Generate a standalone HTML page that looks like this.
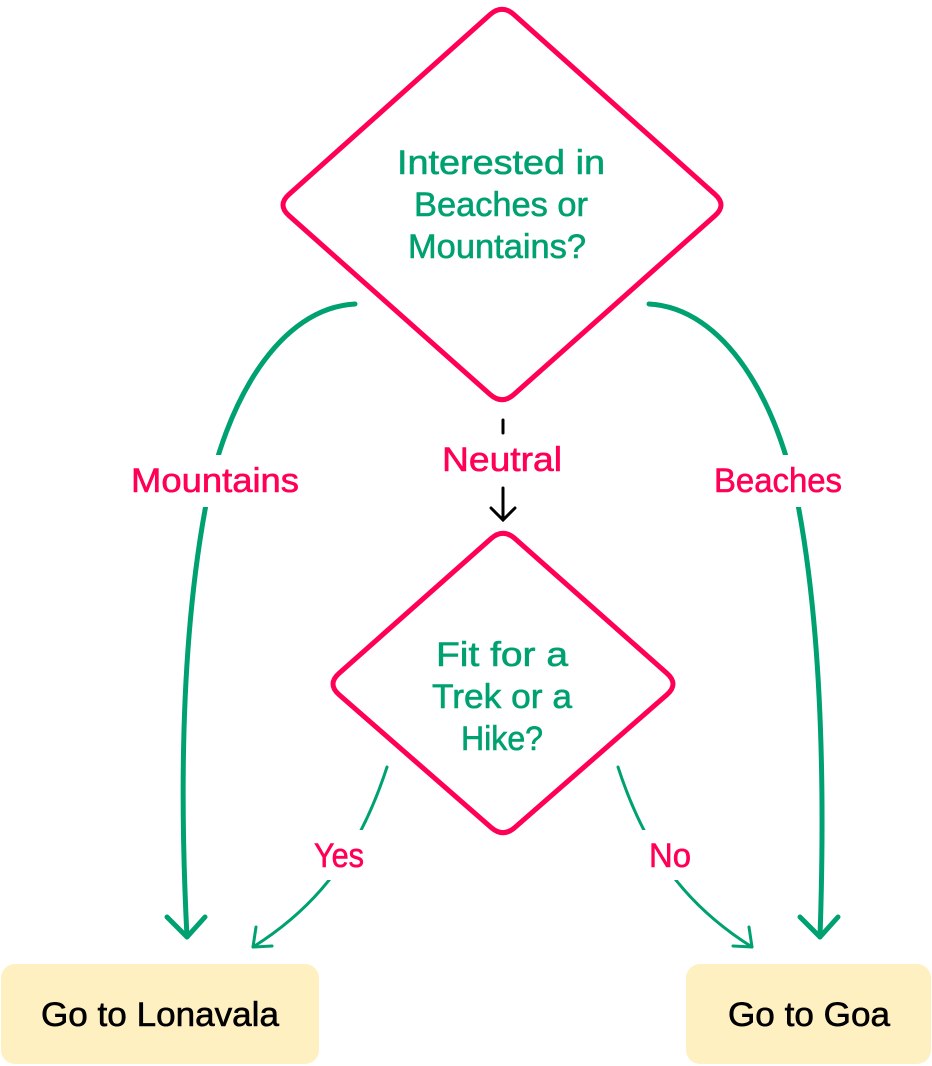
<!DOCTYPE html>
<html><head><meta charset="utf-8"><style>
html,body{margin:0;padding:0;background:#fff;}
svg{display:block;}
text{font-family:"Liberation Sans",sans-serif;}
</style></head><body>
<svg width="932" height="1066" viewBox="0 0 932 1066" xmlns="http://www.w3.org/2000/svg">
<g fill="none" stroke="#ff0054" stroke-width="5" stroke-linejoin="round">
<path d="M514,14.6 L715,194.4 Q727,205 715,215.6 L514,394.4 Q502,405 490,394.4 L289,215.6 Q277,205 289,194.4 L490,14.6 Q502,4 514,14.6 Z"/>
<path d="M515,538.6 L667,673.4 Q679,684 667,694.6 L515,827.4 Q503,838 491,827.4 L339,694.6 Q327,684 339,673.4 L491,538.6 Q503,528 515,538.6 Z"/>
</g>
<g fill="none" stroke="#00a170" stroke-linecap="round" stroke-linejoin="round">
<path stroke-width="5" d="M355,304 C280,308 225,400 205,510 C185,620 178,760 187,937"/>
<path stroke-width="5" d="M167,917 L187,937 L205,917"/>
<path stroke-width="5" d="M649,304 C724,308 779,400 799,510 C819,620 826,760 820,937"/>
<path stroke-width="5" d="M800,917 L820,937 L838,917"/>
<path stroke-width="3" d="M387,767 C360,850 320,905 253,947"/>
<path stroke-width="3" d="M256,927 L253,947 L272,946"/>
<path stroke-width="3" d="M618,767 C645,850 685,905 752,947"/>
<path stroke-width="3" d="M749,927 L752,947 L733,946"/>
</g>
<g stroke="#000" stroke-width="3" fill="none" stroke-linecap="round">
<path d="M503,420 L503,433"/>
<path d="M503,488 L503,520 M491,508 L503,520 L515,508"/>
</g>
<rect x="120" y="455" width="190" height="52" fill="#fff"/>
<rect x="700" y="455" width="150" height="52" fill="#fff"/>
<rect x="305" y="830" width="70" height="50" fill="#fff"/>
<rect x="640" y="830" width="60" height="50" fill="#fff"/>
<g fill="#ff0054" font-size="34" stroke="#ff0054" stroke-width="0.6">
<text x="131" y="492" textLength="168" lengthAdjust="spacingAndGlyphs">Mountains</text>
<text x="714" y="492" textLength="128" lengthAdjust="spacingAndGlyphs">Beaches</text>
<text x="442" y="471" textLength="120" lengthAdjust="spacingAndGlyphs">Neutral</text>
<text x="314" y="867" textLength="50" lengthAdjust="spacingAndGlyphs">Yes</text>
<text x="649" y="867" textLength="42" lengthAdjust="spacingAndGlyphs">No</text>
</g>
<g fill="#00a170" font-size="34" stroke="#00a170" stroke-width="0.6">
<text x="397" y="174" textLength="208" lengthAdjust="spacingAndGlyphs">Interested in</text>
<text x="414" y="216" textLength="174" lengthAdjust="spacingAndGlyphs">Beaches or</text>
<text x="408" y="258" textLength="178" lengthAdjust="spacingAndGlyphs">Mountains?</text>
<text x="436" y="666" textLength="132" lengthAdjust="spacingAndGlyphs">Fit for a</text>
<text x="432" y="708" textLength="140" lengthAdjust="spacingAndGlyphs">Trek or a</text>
<text x="461" y="750" textLength="82" lengthAdjust="spacingAndGlyphs">Hike?</text>
</g>
<rect x="1" y="964" width="318" height="100" rx="14" fill="#fff0c2"/>
<rect x="686" y="964" width="245" height="100" rx="14" fill="#fff0c2"/>
<g fill="#000" font-size="34" stroke="#000" stroke-width="0.6">
<text x="41" y="1026" textLength="238" lengthAdjust="spacingAndGlyphs">Go to Lonavala</text>
<text x="728" y="1026" textLength="162" lengthAdjust="spacingAndGlyphs">Go to Goa</text>
</g>
</svg>
</body></html>
